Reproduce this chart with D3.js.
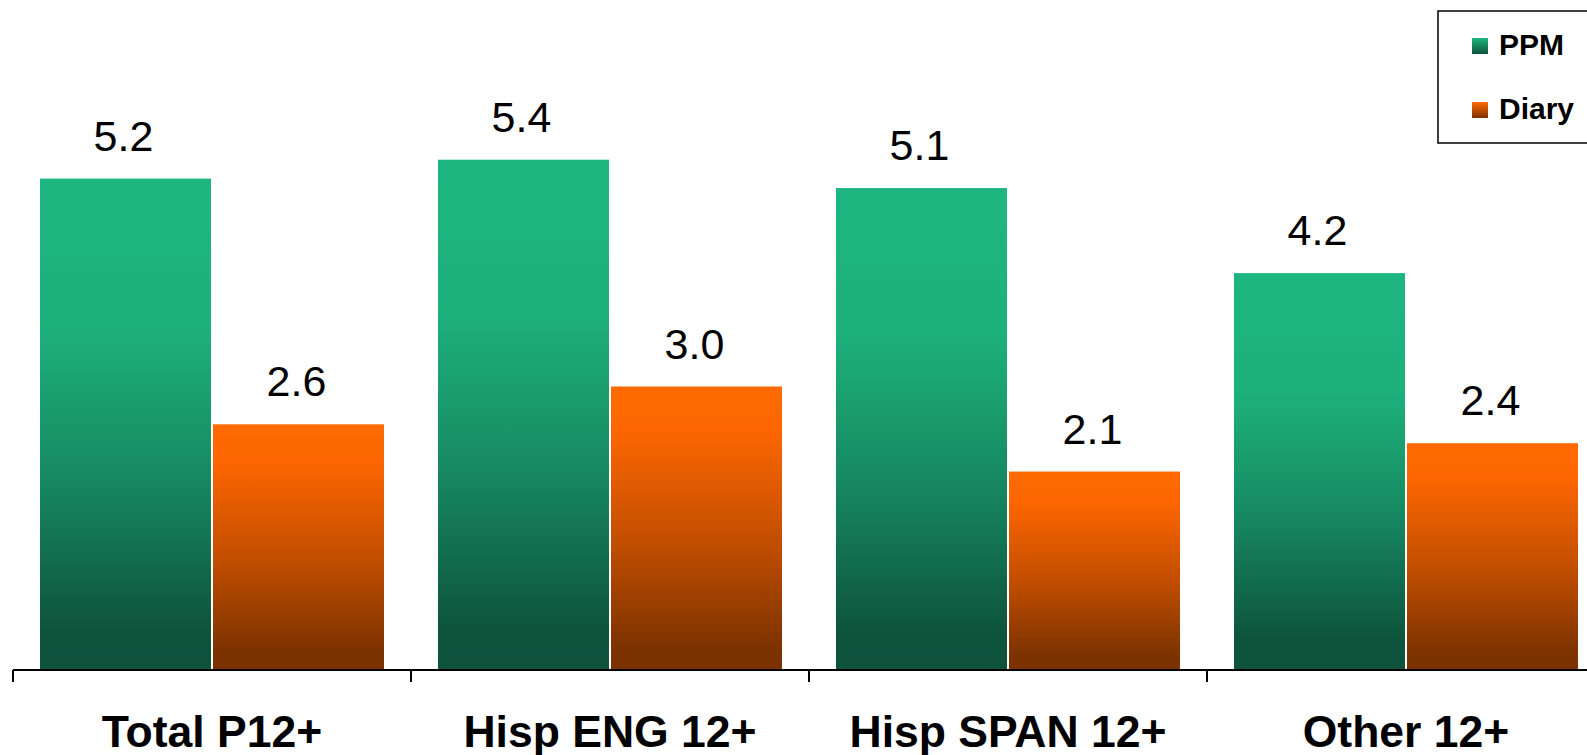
<!DOCTYPE html>
<html>
<head>
<meta charset="utf-8">
<script src="https://cdn.jsdelivr.net/npm/d3@7"></script>
<style>
  html, body { margin: 0; padding: 0; background: #fff; }
  svg { display: block; }
</style>
</head>
<body>
<svg id="chart" width="1587" height="755"></svg>
<script>
const categories = ["Total P12+", "Hisp ENG 12+", "Hisp SPAN 12+", "Other 12+"];
const seriesNames = ["PPM", "Diary"];
const ppmValues = [5.2, 5.4, 5.1, 4.2];
const diaryValues = [2.6, 3.0, 2.1, 2.4];
const valueLabels = [["5.2", "5.4", "5.1", "4.2"], ["2.6", "3.0", "2.1", "2.4"]];

const seriesValues = [ppmValues, diaryValues];
const svg = d3.select("#chart");
const font = "'Liberation Sans', Arial, sans-serif";

const axisY = 670;
const bandStep = 398;
const x0 = d3.scaleBand().domain(categories).range([13, 13 + bandStep * 4]).paddingInner(0).paddingOuter(0);
const x1 = d3.scaleBand().domain(seriesNames).range([27, 27 + 344]).paddingInner(2 / 173).paddingOuter(0);
const y = d3.scaleLinear().domain([0, 7]).range([axisY, axisY - 7 * 94.5]);

// gradients
const defs = svg.append("defs");
const grads = [
  { id: "gPPM", stops: [[0, "#1eb680"], [0.3, "#1db17c"], [0.6, "#178a63"], [0.92, "#0e543d"], [1, "#0e523c"]] },
  { id: "gDiary", stops: [[0, "#ff6a00"], [0.15, "#fd6600"], [0.55, "#c24e00"], [0.92, "#7d3300"], [1, "#7a3100"]] }
];
grads.forEach(g => {
  const lg = defs.append("linearGradient").attr("id", g.id).attr("x1", 0).attr("y1", 0).attr("x2", 0).attr("y2", 1);
  g.stops.forEach(s => lg.append("stop").attr("offset", s[0]).attr("stop-color", s[1]));
});
const legendGrads = [
  { id: "lPPM", stops: [[0, "#1eb680"], [1, "#0e523c"]] },
  { id: "lDiary", stops: [[0, "#ff6a00"], [1, "#7a3100"]] }
];
legendGrads.forEach(g => {
  const lg = defs.append("linearGradient").attr("id", g.id).attr("x1", 0).attr("y1", 0).attr("x2", 0).attr("y2", 1);
  g.stops.forEach(s => lg.append("stop").attr("offset", s[0]).attr("stop-color", s[1]));
});
const fills = ["url(#gPPM)", "url(#gDiary)"];

// bars
categories.forEach((cat, ci) => {
  const g = svg.append("g").attr("transform", `translate(${x0(cat)},0)`);
  seriesNames.forEach((s, si) => {
    const v = seriesValues[si][ci];
    g.append("rect")
      .attr("x", x1(s))
      .attr("y", y(v))
      .attr("width", x1.bandwidth())
      .attr("height", axisY - y(v))
      .attr("fill", fills[si]);
    g.append("text")
      .attr("x", x1(s) + x1.bandwidth() / 2 - 2)
      .attr("y", y(v) - 28)
      .attr("text-anchor", "middle")
      .attr("font-family", font)
      .attr("font-size", 43)
      .attr("fill", "#000")
      .text(valueLabels[si][ci]);
  });
});

// axis
const axisG = svg.append("g").attr("transform", `translate(0,${axisY})`);
axisG.append("line").attr("x1", 13).attr("x2", 1587).attr("y1", 0).attr("y2", 0)
  .attr("stroke", "#000").attr("stroke-width", 2);
categories.forEach(cat => {
  axisG.append("line").attr("x1", x0(cat)).attr("x2", x0(cat)).attr("y1", 0).attr("y2", 12)
    .attr("stroke", "#000").attr("stroke-width", 2);
  axisG.append("text")
    .attr("x", x0(cat) + x0.bandwidth() / 2)
    .attr("y", 77)
    .attr("text-anchor", "middle")
    .attr("font-family", font)
    .attr("font-weight", "bold")
    .attr("font-size", 44.5)
    .attr("fill", "#000")
    .text(cat);
});

// legend
const leg = svg.append("g");
leg.append("rect").attr("x", 1438).attr("y", 11).attr("width", 170).attr("height", 132)
  .attr("fill", "#fff").attr("stroke", "#000").attr("stroke-width", 1.5);
const legY = [38, 102];
const legFills = ["url(#lPPM)", "url(#lDiary)"];
seriesNames.forEach((s, i) => {
  leg.append("rect").attr("x", 1472).attr("y", legY[i]).attr("width", 16).attr("height", 16)
    .attr("fill", legFills[i]);
  leg.append("text").attr("x", 1499).attr("y", legY[i] + 17)
    .attr("font-family", font).attr("font-weight", "bold").attr("font-size", 30)
    .attr("fill", "#000").text(s);
});
</script>
</body>
</html>
